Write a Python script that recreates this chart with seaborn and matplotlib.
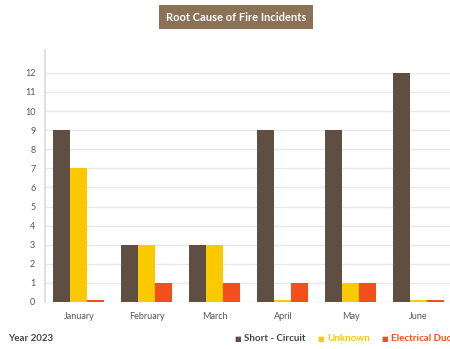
import matplotlib
matplotlib.use("Agg")
import matplotlib.pyplot as plt
import numpy as np
import pandas as pd
import seaborn as sns

months = ["January", "February", "March", "April", "May", "June"]
short_circuit = [9, 3, 3, 9, 9, 12]
unknown = [7, 3, 3, 0, 1, 0]
electrical = [0, 1, 1, 1, 1, 0]
series = ["Short - Circuit", "Unknown", "Electrical Duct"]
colors = ["#5f4f43", "#fbc900", "#f24f1c"]

df = pd.DataFrame({
    "month": months * 3,
    "cause": [s for s in series for _ in months],
    "count": short_circuit + unknown + electrical,
})
# zero counts are drawn as a thin stub like in the original
df["shown"] = np.where(df["count"] == 0, 0.09, df["count"])

sns.set_theme(style="white")
plt.rcParams["font.family"] = ["Lato", "DejaVu Sans"]

fig = plt.figure(figsize=(4.5, 3.49), dpi=100)
ax = fig.add_axes([0.1, 0.1347, 0.9, 0.7223])
sns.barplot(data=df, x="month", y="shown", hue="cause", palette=colors,
            width=0.75, saturation=1, legend=False, linewidth=0, ax=ax)

ax.set_xlim(-0.5, 5.46)
ax.set_ylim(0, 13.2)
ax.set_yticks(range(13))
ax.yaxis.grid(True, color="#e8e8e8", lw=1)
ax.set_axisbelow(True)
for s in ["top", "right", "bottom"]:
    ax.spines[s].set_visible(False)
ax.spines["left"].set_color("#dcdcdc")
ax.tick_params(axis="both", length=0, labelsize=6.5, labelcolor="#555555")
ax.tick_params(axis="y", pad=7)
ax.tick_params(axis="x", pad=7)
ax.set_xlabel("")
ax.set_ylabel("")

fig.text(0.525, 0.951, "Root Cause of Fire Incidents", ha="center", va="center",
         fontsize=8, fontweight="bold", color="white",
         bbox=dict(boxstyle="square,pad=0.6", fc="#8b7257", ec="none"))

fig.text(0.018, 0.03, "Year 2023", fontsize=7, fontweight="bold", color="#444444",
         va="center")
xs = [0.52, 0.705, 0.847]
for x, lab, c in zip(xs, series, colors):
    fig.text(x, 0.03, "■", fontsize=5, color=c, va="center")
    tc = "#444444" if c == colors[0] else c
    fig.text(x + 0.022, 0.03, lab, fontsize=7, fontweight="bold", color=tc, va="center")

fig.savefig("out.png", dpi=100)
